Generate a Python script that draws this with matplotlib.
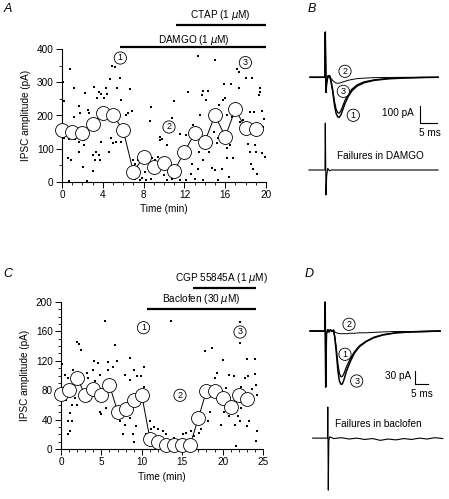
import matplotlib
matplotlib.use('Agg')
import matplotlib.pyplot as plt
from matplotlib.ticker import MultipleLocator

plt.rcParams['font.family'] = ['Liberation Sans', 'DejaVu Sans']
plt.rcParams['font.size'] = 7.2

# ---- panel A: DAMGO / CTAP time course ----
a_mean_t = [0, 1, 2, 3, 4, 5, 6, 7, 8, 9, 10, 11, 12, 13, 14, 15, 16, 17, 18, 19]
a_mean_y = [156, 151, 146, 174, 207, 201, 156, 30, 76, 45, 58, 33, 91, 146, 121, 201, 136, 219, 161, 158]
a_dot_t = [0.75, 0.23, 1.21, 2.26, 3.11, 3.61, 3.84, 4.33, 4.43, 4.10, 3.44, 4.72, 4.89, 5.15,
           5.70, 5.41, 5.80, 6.69, 6.30, 6.46, 6.85, 1.64, 1.15, 1.80, 2.59, 2.69, 0.82, 0.23,
           0.72, 1.28, 1.70, 2.13, 2.20, 0.56, 0.89, 1.64, 2.03, 3.02, 3.34, 3.67, 3.25, 3.02,
           3.84, 3.77, 4.56, 4.82, 4.98, 5.31, 5.64, 5.80, 8.69, 8.59, 6.95, 7.11, 7.44, 7.93,
           8.16, 8.85, 9.08, 9.41, 9.57, 7.11, 7.60, 8.26, 8.75, 7.80, 0.72, 2.50, 0.10,
           13.38, 15.0, 17.2, 17.38, 18.07, 18.62, 15.9, 16.6, 17.38, 19.44, 13.8, 14.36, 12.39,
           13.7, 14.1, 15.95, 15.8, 15.4, 19.28, 19.4, 11.02, 13.54, 10.82, 11.6, 12.16, 12.89,
           13.15, 16.16, 16.66, 17.48, 18.4, 18.8, 17.74, 19.7, 9.8, 14.9, 15.3, 15.15, 16.16,
           16.49, 18.2, 18.95, 18.4, 19.05, 19.6, 14.4, 13.8, 13.4, 12.72, 16.16, 16.8, 18.5,
           18.76, 19.1, 12.62, 13.38, 14.69, 15.0, 15.67, 16.39, 10.26, 10.75, 11.1, 11.56,
           12.2, 13.0, 13.8, 15.3, 9.6, 10.3, 9.9, 10.6, 10.0, 19.9, 19.8, 19.6]
a_dot_y = [340, 244, 282, 269, 285, 272, 264, 282, 264, 252, 254, 309, 348, 345,
           312, 282, 247, 280, 201, 207, 214, 229, 196, 207, 217, 207, 156, 131,
           128, 128, 121, 111, 126, 71, 65, 91, 45, 81, 91, 81, 65, 32,
           121, 65, 91, 131, 116, 121, 141, 121, 227, 183, 65, 55, 65, 65,
           30, 71, 65, 76, 126, 10, 5, 5, 10, 12, 3, 3, 300,
           380, 368, 341, 332, 314, 314, 294, 294, 284, 282, 275, 275, 272,
           262, 247, 252, 247, 232, 262, 272, 244, 201, 191, 143, 141, 171,
           166, 201, 196, 181, 212, 212, 186, 166, 128, 151, 131, 116, 101,
           111, 113, 111, 91, 91, 86, 91, 65, 91, 55, 73, 71, 55,
           40, 25, 25, 40, 42, 35, 40, 15, 5, 10, 15, 5,
           5, 10, 5, 5, 135, 110, 60, 40, 20, 76, 190, 215]

# ---- panel C: baclofen / CGP time course ----
c_mean_t = list(range(24))
c_mean_y = [75, 80, 97, 73, 81, 73, 87, 51, 55, 67, 73, 14, 9, 6, 6, 6, 6, 42, 79, 79, 70, 57, 73, 68]
c_dot_t = [5.43, 1.93, 2.22, 2.47, 6.66, 8.51, 4.11, 4.6, 5.76, 6.87, 6.45, 9.05, 9.46, 9.87,
           0.08, 0.5, 0.9, 1.52, 2.63, 3.17, 3.99, 4.8, 5.8, 4.2, 3.37, 7.9, 8.5, 0.29, 0.58,
           1.73, 1.32, 2.01, 2.88, 3.45, 4.6, 5.14, 5.63, 4.8, 5.0, 1.1, 0.82, 1.4, 1.11, 0.9,
           6.87, 7.15, 7.28, 7.9, 7.69, 8.9, 9.05, 9.3, 8.5, 9.95, 10.3, 10.98, 11.2, 10.57, 10.3,
           13.65, 22.2, 17.76, 18.67, 22.2, 23.0, 24.0, 20.0, 19.3, 19.08, 20.85, 21.4, 22.8,
           23.1, 24.0, 18.6, 18.2, 24.1, 23.7, 24.3, 22.3, 20.4, 20.7, 22.5, 23.2, 22.3, 21.9,
           20.2, 20.85, 18.5, 18.2, 19.8, 21.5, 22.1, 23.3, 23.0, 24.1, 17.35, 17.1, 16.5, 15.9,
           21.7, 12.0, 12.6, 13.0, 14.0, 15.1, 15.5, 16.1, 12.5, 24.2, 11.5]
c_dot_y = [174, 145, 143, 135, 142, 124, 120, 117, 118, 120, 112, 108, 100, 99,
           115, 101, 97, 108, 102, 103, 108, 101, 107, 92, 97, 101, 94, 70, 67,
           70, 60, 60, 79, 65, 65, 70, 56, 51, 47, 49, 38, 38, 24, 20,
           56, 49, 38, 33, 20, 20, 9, 31, 42, 70, 85, 38, 27, 20, 112,
           174, 173, 133, 138, 144, 123, 123, 121, 103, 97, 101, 99, 97,
           99, 102, 85, 79, 87, 81, 74, 85, 83, 74, 70, 65, 56, 45,
           51, 45, 51, 38, 33, 33, 38, 38, 31, 11, 27, 22, 18, 11,
           4, 27, 24, 20, 15, 20, 22, 24, 11, 24, 30]

# ---- panel B: averaged IPSCs (ms, pA) ----
b_t = [-4.6, -0.3, -0.2, 0.0, 0.2, 0.6, 1.0, 1.4, 1.9, 2.4, 2.9, 3.4, 3.8, 4.3, 4.9,
       5.6, 6.4, 7.5, 9.0, 11.0, 14.0, 18.0, 23.0, 28.0, 32.3]
b_y1 = [0, 0, 270, -90, -30, 8, 10, -20, -80, -160, -215, -238, -240, -225, -190,
        -150, -115, -80, -52, -32, -18, -9, -4, -1, 0]
b_y2 = [0, 0, 270, -90, -30, 8, 10, -5, -18, -28, -34, -36, -35, -32, -28,
        -23, -18, -13, -8, -5, -2, -1, 0, 0, 0]
b_y3 = [0, 0, 270, -90, -30, 8, 10, -18, -70, -140, -190, -212, -215, -200, -168,
        -132, -100, -70, -45, -27, -15, -7, -3, -1, 0]
bf_t = [-4.9, -0.3, -0.2, 0.0, 0.2, 0.5, 1.0, 1.5, 32.3]
bf_y = [-555, -555, -274, -704, -590, -545, -560, -555, -555]

# ---- panel D: averaged IPSCs (ms, pA) ----
d_t = [-6, -0.3, -0.2, 0.0, 0.3, 0.8, 1.3, 1.8, 2.4, 3.0, 3.5, 4.1, 4.7, 5.3, 5.9, 6.4,
       7.0, 8.0, 9.5, 11.0, 13.0, 15.5, 18.5, 22.0, 27.0, 33.0, 39.0, 44.0]
d_y1 = [0, 0, 65, -126, -5, 3, -2, 3, -1, 2, -12, -40, -75, -96, -103, -102,
        -96, -80, -62, -47, -33, -23, -14, -8, -4, -2, -1, 0]
d_y2 = [0, 0, 65, -126, -5, 3, -2, 3, -1, 2, -2, -4, -5, -6, -6, -6,
        -6, -6, -5, -5, -4, -4, -3, -2, -1, -1, 0, 0]
d_y3 = [0, 0, 65, -126, -5, 3, -2, 3, -1, 2, -15, -50, -90, -113, -120, -119,
        -110, -90, -68, -50, -35, -24, -15, -9, -4, -2, -1, 0]
df_t = [-5, 0.7, 0.8, 1.0, 1.2, 1.6, 3, 6, 9, 12, 15, 18, 21, 24, 27, 30, 33, 36, 39, 42, 45]
df_y = [-241, -241, -171, -358, -245, -238, -242, -240, -243, -241, -244, -242, -246,
        -243, -245, -242, -244, -241, -243, -240, -242]

W, H = 449, 499
fig = plt.figure(figsize=(W / 100, H / 100), dpi=100)


def box(x0, y0, x1, y1):
    return fig.add_axes([x0 / W, 1 - y1 / H, (x1 - x0) / W, (y1 - y0) / H])


def ftext(x, y, s, **kw):
    fig.text(x / W, 1 - y / H, s, **kw)


def circ(x, y, s):
    ftext(x, y, s, ha='center', va='center', fontsize=6.5,
          bbox=dict(boxstyle='circle,pad=0.18', fc='white', ec='k', lw=0.6))


def timecourse(ax, dt, dy, mt, my):
    ax.scatter(dt, dy, s=3, marker='s', c='k', lw=0, clip_on=False, zorder=2)
    ax.plot(mt, my, '-', color='k', lw=0.7, marker='o', ms=10, mfc='white',
            mec='k', mew=0.6, clip_on=False, zorder=3)
    for s in ['top', 'right']:
        ax.spines[s].set_visible(False)
    for s in ['left', 'bottom']:
        ax.spines[s].set_linewidth(0.8)
    ax.tick_params(which='major', length=4, width=0.7, pad=2, labelsize=7.2)
    ax.tick_params(which='minor', length=2, width=0.6)
    ax.set_xlabel('Time (min)', labelpad=3)
    ax.set_ylabel('IPSC amplitude (pA)', labelpad=4)


axA = box(62, 49, 266, 182)
timecourse(axA, a_dot_t, a_dot_y, a_mean_t, a_mean_y)
axA.set_xlim(0, 20)
axA.set_ylim(0, 400)
axA.xaxis.set_major_locator(MultipleLocator(4))
axA.xaxis.set_minor_locator(MultipleLocator(1))
axA.yaxis.set_major_locator(MultipleLocator(100))
axA.yaxis.set_minor_locator(MultipleLocator(50))
axA.plot([5.7, 20], [406, 406], color='k', lw=1.6, clip_on=False, solid_capstyle='butt')
axA.plot([11.2, 20], [471, 471], color='k', lw=1.6, clip_on=False, solid_capstyle='butt')
axA.text(12.9, 428, r'DAMGO (1 $\mu$M)', ha='center', va='center')
axA.text(15.5, 502, r'CTAP (1 $\mu$M)', ha='center', va='center')

axC = box(61, 302, 263, 449)
timecourse(axC, c_dot_t, c_dot_y, c_mean_t, c_mean_y)
axC.set_xlim(0, 25)
axC.set_ylim(0, 200)
axC.xaxis.set_major_locator(MultipleLocator(5))
axC.xaxis.set_minor_locator(MultipleLocator(1))
axC.yaxis.set_major_locator(MultipleLocator(40))
axC.yaxis.set_minor_locator(MultipleLocator(10))
axC.plot([10.6, 24.1], [191, 191], color='k', lw=1.6, clip_on=False, solid_capstyle='butt')
axC.plot([16.3, 24.1], [218.6, 218.6], color='k', lw=1.6, clip_on=False, solid_capstyle='butt')
axC.text(17.4, 204, r'Baclofen (30 $\mu$M)', ha='center', va='center')
axC.text(19.9, 232, r'CGP 55845A (1 $\mu$M)', ha='center', va='center')

# circled numbers on time courses
for (x, y, s) in [(120.3, 58, '1'), (169, 127, '2'), (245.4, 62.6, '3'),
                  (143.5, 327.7, '1'), (180, 395.3, '2'), (240, 332, '3')]:
    circ(x, y, s)

# ---- trace panels ----
axB = box(300, 20, 449, 245)
axB.set_xlim(-7.49, 35.45)
axB.set_ylim(-1004, 343)
axB.axis('off')
axB.plot(b_t, b_y2, color='k', lw=0.7)
axB.plot(b_t, b_y3, color='k', lw=0.9)
axB.plot(b_t, b_y1, color='k', lw=1.1)
axB.plot(bf_t, bf_y, color='k', lw=0.8)
axB.plot([27.1, 27.1, 32.1], [-174, -274, -274], color='k', lw=0.8)

axD = box(300, 285, 449, 495)
axD.set_xlim(-9.88, 47.4)
axD.set_ylim(-369, 103.6)
axD.axis('off')
axD.plot(d_t, d_y2, color='k', lw=0.7)
axD.plot(d_t, d_y1, color='k', lw=0.9)
axD.plot(d_t, d_y3, color='k', lw=1.1)
axD.plot(df_t, df_y, color='k', lw=0.8)
axD.plot([34.3, 34.3, 39.3], [-90, -119.4, -119.4], color='k', lw=0.8)

for (x, y, s) in [(345, 71.3, '2'), (343.3, 91.3, '3'), (353.3, 115.3, '1'),
                  (349, 324.3, '2'), (345, 354.3, '1'), (356.7, 381, '3')]:
    circ(x, y, s)

ftext(414, 113, '100 pA', ha='right', va='center')
ftext(430, 133, '5 ms', ha='center', va='center')
ftext(337, 156, 'Failures in DAMGO', ha='left', va='center')
ftext(411, 376, '30 pA', ha='right', va='center')
ftext(422, 394, '5 ms', ha='center', va='center')
ftext(335, 424, 'Failures in baclofen', ha='left', va='center')

for (x, y, s) in [(8, 9, 'A'), (312, 9, 'B'), (8, 274, 'C'), (309, 274, 'D')]:
    ftext(x, y, s, ha='center', va='center', fontsize=9, style='italic')

fig.savefig('out.png', dpi=100)
